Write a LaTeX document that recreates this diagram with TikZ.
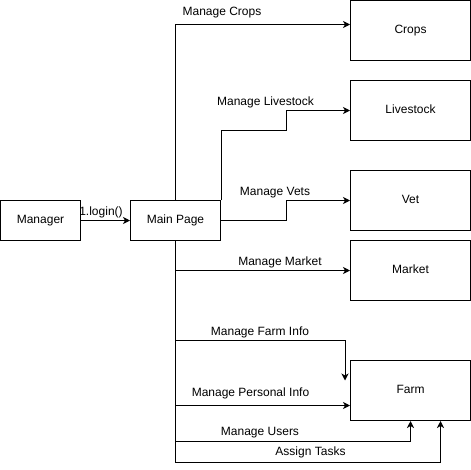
\documentclass[tikz,border=0pt]{standalone}
\usepackage{fontspec}
\setmainfont{Liberation Sans}
\usetikzlibrary{arrows.meta}

\begin{document}
\begin{tikzpicture}[x=1pt,y=-1pt,
    box/.style={draw,line width=1pt,inner sep=0pt,text height=8.6pt,text depth=2.4pt,font=\fontsize{12}{14}\selectfont},
    wide/.style={box,minimum width=120pt,minimum height=60pt},
    flow/.style={draw,line width=1pt,-{Stealth[length=7pt,width=7pt,inset=2pt]}},
    lbl/.style={anchor=base,inner sep=0pt,font=\fontsize{12}{14}\selectfont}]
    % Fix the page size
    \useasboundingbox (0,0) rectangle (471,469);

    % Draw the boxes
    \node[box,minimum width=80pt,minimum height=40pt] (mgr) at (40.5,220.5) {Manager};
    \node[box,minimum width=90pt,minimum height=40pt] (main) at (175.5,220.5) {Main Page};
    \node[wide] (crops) at (410.5,30.5) {Crops};
    \node[wide] (stock) at (410.5,110.5) {Livestock};
    \node[wide] (vet) at (410.5,200.5) {Vet};
    \node[wide] (market) at (410.5,270.5) {Market};
    \node[wide] (farm) at (410.5,390.5) {Farm};
    \coordinate (farminfo) at ([xshift=-5pt,yshift=10pt]farm.west);

    % Login
    \draw[flow] (mgr.east) -- (main.west);
    \node[lbl] (llogin) at (101,215.3) {1.login()};

    % Upper connectors
    \draw[flow] (main.north) |- ([yshift=6pt]crops.west);
    \draw[flow] (main.north east) |- (286.5,130.5) |- (stock.west);
    \draw[flow] (main.east) -| (286.5,200.5) -- (vet.west);

    % Lower connectors
    \draw[flow] (main.south) |- (market.west);
    \draw[flow] (main.south) |- ([yshift=40pt]farminfo) -- (farminfo);
    \draw[flow] (main.south) |- ([yshift=-15pt]farm.west);
    \draw[flow] (main.south) |- ([yshift=-20pt]farm.south) -- (farm.south);
    \draw[flow] (main.south) |- ([xshift=30pt,yshift=-41pt]farm.south) -- ([xshift=30pt]farm.south);

    % Label the connectors
    \node[lbl] (lcrops) at (222,15.3) {Manage Crops};
    \node[lbl] (lstock) at (265.5,105.3) {Manage Livestock};
    \node[lbl] (lvet) at (275,195.3) {Manage Vets};
    \node[lbl] (lmarket) at (280,265.3) {Manage Market};
    \node[lbl] (linfo) at (260,335.3) {Manage Farm Info};
    \node[lbl] (lpersonal) at (250.5,396) {Manage Personal Info};
    \node[lbl] (lusers) at (260,435.3) {Manage Users};
    \node[lbl] (ltasks) at (310.5,455.3) {Assign Tasks};
\end{tikzpicture}
\end{document}
